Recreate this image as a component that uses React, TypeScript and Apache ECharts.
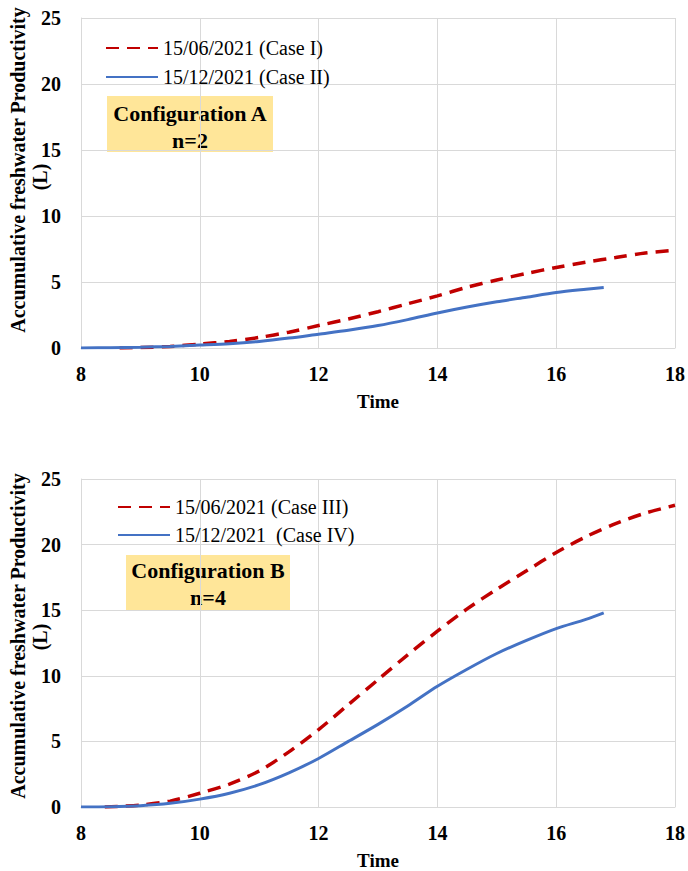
import React, { useEffect, useRef } from "react";
import * as echarts from "echarts";

const xTicks = [8, 10, 12, 14, 16, 18];
const yTicks = [0, 5, 10, 15, 20, 25];

const legendA = ["15/06/2021 (Case I)", "15/12/2021 (Case II)"];
const legendB = ["15/06/2021 (Case III)", "15/12/2021  (Case IV)"];

const caseI_x = [8.65, 9, 9.5, 10, 10.5, 11, 11.5, 12, 12.5, 13, 13.5, 14, 14.5, 15, 15.5, 16, 16.5, 17, 17.5, 18];
const caseI_y = [0, 0.03, 0.12, 0.3, 0.5, 0.8, 1.2, 1.7, 2.2, 2.75, 3.35, 3.95, 4.6, 5.15, 5.65, 6.1, 6.5, 6.85, 7.2, 7.4];

const caseII_x = [8, 8.5, 9, 9.5, 10, 10.5, 11, 11.5, 12, 12.5, 13, 13.5, 14, 14.5, 15, 15.5, 16, 16.5, 16.8];
const caseII_y = [0, 0.02, 0.06, 0.12, 0.22, 0.33, 0.5, 0.75, 1.05, 1.35, 1.7, 2.15, 2.65, 3.1, 3.5, 3.85, 4.2, 4.45, 4.58];

const caseIII_x = [8.4, 9, 9.5, 10, 10.5, 11, 11.5, 12, 12.5, 13, 13.5, 14, 14.5, 15, 15.5, 16, 16.5, 17, 17.5, 18];
const caseIII_y = [0, 0.15, 0.45, 1.05, 1.75, 2.75, 4.2, 5.9, 7.8, 9.7, 11.6, 13.4, 15.1, 16.6, 18.0, 19.4, 20.6, 21.6, 22.4, 23.0];

const caseIV_x = [8, 8.5, 9, 9.5, 10, 10.5, 11, 11.5, 12, 12.5, 13, 13.5, 14, 14.5, 15, 15.5, 16, 16.5, 16.8];
const caseIV_y = [0, 0.02, 0.1, 0.28, 0.6, 1.05, 1.7, 2.6, 3.7, 5.0, 6.3, 7.7, 9.2, 10.5, 11.7, 12.7, 13.6, 14.3, 14.8];

const yTitle = "Accumulative freshwater Productivity";
const yUnit = "(L)";
const xTitle = "Time";
const boxA = ["Configuration A", "n=2"];
const boxB = ["Configuration B", "n=4"];

const FONT = "'Liberation Serif', 'Times New Roman', serif";
const RED = "#C00000";
const BLUE = "#4472C4";
const GRIDC = "#D9D9D9";

const pairs = (xs: number[], ys: number[]) => xs.map((x, i) => [x, ys[i]]);

export default function App() {
  const ref = useRef<HTMLDivElement>(null);
  useEffect(() => {
    if (!ref.current) return;
    const chart = echarts.init(ref.current, null, { renderer: "svg" });

    const xAxisCfg = (gridIndex: number) => ({
      type: "value",
      gridIndex,
      min: xTicks[0],
      max: xTicks[xTicks.length - 1],
      interval: 2,
      name: xTitle,
      nameLocation: "middle",
      nameGap: 44,
      nameTextStyle: { fontFamily: FONT, fontWeight: "bold", fontSize: 19, color: "#000" },
      axisLine: { show: true, lineStyle: { color: GRIDC, width: 1 } },
      axisTick: { show: false },
      axisLabel: { fontFamily: FONT, fontWeight: "bold", fontSize: 20, color: "#000", margin: 16 },
      splitLine: { show: true, lineStyle: { color: GRIDC, width: 1 } },
    });
    const yAxisCfg = (gridIndex: number) => ({
      type: "value",
      gridIndex,
      min: yTicks[0],
      max: yTicks[yTicks.length - 1],
      interval: 5,
      axisLine: { show: true, lineStyle: { color: GRIDC, width: 1 } },
      axisTick: { show: false },
      axisLabel: { fontFamily: FONT, fontWeight: "bold", fontSize: 20, color: "#000", margin: 20 },
      splitLine: { show: true, lineStyle: { color: GRIDC, width: 1 } },
    });

    const redLine = { color: RED, width: 3.5, type: [13, 8] as any };
    const blueLine = { color: BLUE, width: 3, type: "solid" };

    const yTitleTexts = (cy: number, cyUnit: number) => [
      {
        type: "text",
        x: 18,
        y: cy,
        rotation: Math.PI / 2,
        style: { text: yTitle, fontFamily: FONT, fontWeight: "bold", fontSize: 20, fill: "#000", align: "center", verticalAlign: "middle" },
      },
      {
        type: "text",
        x: 40,
        y: cyUnit,
        rotation: Math.PI / 2,
        style: { text: yUnit, fontFamily: FONT, fontWeight: "bold", fontSize: 20, fill: "#000", align: "center", verticalAlign: "middle" },
      },
    ];

    const box = (x: number, y: number, w: number, h: number, lines: string[], y1: number, y2: number) => [
      { type: "rect", shape: { x, y, width: w, height: h }, style: { fill: "#FFE699" } },
      {
        type: "text",
        x: x + w / 2,
        y: y1,
        style: { text: lines[0], fontFamily: FONT, fontWeight: "bold", fontSize: 22, fill: "#000", align: "center", verticalAlign: "middle" },
      },
      {
        type: "text",
        x: x + w / 2,
        y: y2,
        style: { text: lines[1], fontFamily: FONT, fontWeight: "bold", fontSize: 22, fill: "#000", align: "center", verticalAlign: "middle" },
      },
    ];

    const legendBase = {
      orient: "vertical",
      itemWidth: 52,
      itemHeight: 14,
      textStyle: { fontFamily: FONT, fontSize: 20, color: "#000", lineHeight: 20 },
      itemStyle: { opacity: 0 },
      selectedMode: false,
    };

    const seriesBase = {
      type: "line",
      smooth: 0.3,
      symbol: "none",
      showSymbol: false,
    };

    chart.setOption({
      animation: false,
      backgroundColor: "#fff",
      grid: [
        { left: 81, top: 18, width: 596, height: 330 },
        { left: 81, top: 479, width: 594, height: 330 },
      ],
      xAxis: [xAxisCfg(0), xAxisCfg(1)],
      yAxis: [yAxisCfg(0), yAxisCfg(1)],
      legend: [
        { ...legendBase, data: legendA, left: 100, top: 33, itemGap: 9 },
        { ...legendBase, data: legendB, left: 112, top: 492, itemGap: 8 },
      ],
      graphic: [
        ...box(107, 96, 166, 56, boxA, 113, 140),
        ...box(126, 555, 164, 55, boxB, 570, 597),
        ...yTitleTexts(170, 177),
        ...yTitleTexts(636, 637),
      ],
      series: [
        { ...seriesBase, name: legendA[0], xAxisIndex: 0, yAxisIndex: 0, data: pairs(caseI_x, caseI_y), lineStyle: redLine, itemStyle: { color: RED } },
        { ...seriesBase, name: legendA[1], xAxisIndex: 0, yAxisIndex: 0, data: pairs(caseII_x, caseII_y), lineStyle: blueLine, itemStyle: { color: BLUE } },
        { ...seriesBase, name: legendB[0], xAxisIndex: 1, yAxisIndex: 1, data: pairs(caseIII_x, caseIII_y), lineStyle: redLine, itemStyle: { color: RED } },
        { ...seriesBase, name: legendB[1], xAxisIndex: 1, yAxisIndex: 1, data: pairs(caseIV_x, caseIV_y), lineStyle: blueLine, itemStyle: { color: BLUE } },
      ],
    });
    return () => chart.dispose();
  }, []);
  return <div ref={ref} style={{ position: "absolute", left: 0, top: 0, width: 688, height: 871 }} />;
}
